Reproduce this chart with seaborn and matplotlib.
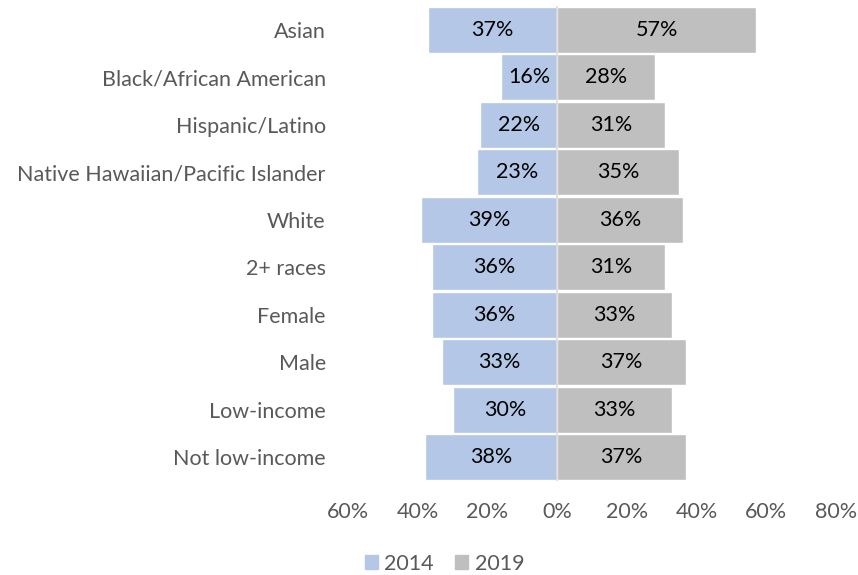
import numpy as np
import pandas as pd
import seaborn as sns
import matplotlib.pyplot as plt
from matplotlib.patches import Patch

groups = ['Asian', 'Black/African American', 'Hispanic/Latino',
          'Native Hawaiian/Pacific Islander', 'White', '2+ races',
          'Female', 'Male', 'Low-income', 'Not low-income']
pct_2014 = [37, 16, 22, 23, 39, 36, 36, 33, 30, 38]
pct_2019 = [57, 28, 31, 35, 36, 31, 33, 37, 33, 37]
xticks = [-60, -40, -20, 0, 20, 40, 60, 80]

blue = '#b4c7e7'
grey = '#bfbfbf'

sns.set_style('white')
plt.rcParams['font.family'] = ['Lato', 'DejaVu Sans']
fs = 15.5

df = pd.DataFrame({'group': groups,
                   'y2014': [-v for v in pct_2014],
                   'y2019': pct_2019})

fig = plt.figure(figsize=(8.58, 5.75), dpi=100)
ax = fig.add_axes([0.4056, 0.1635, 0.5688, 0.8261])

sns.barplot(data=df, x='y2014', y='group', color=blue, saturation=1,
            width=0.97, edgecolor='white', linewidth=1, ax=ax)
sns.barplot(data=df, x='y2019', y='group', color=grey, saturation=1,
            width=0.97, edgecolor='white', linewidth=1, ax=ax)

# value labels
ax.bar_label(ax.containers[0], labels=[f'{v}%' for v in pct_2014],
             label_type='center', fontsize=fs, color='black')
ax.bar_label(ax.containers[1], labels=[f'{v}%' for v in pct_2019],
             label_type='center', fontsize=fs, color='black')

ax.axvline(0, color='#d9d9d9', lw=1.2, zorder=5)

ax.set_xlim(-60, 80)
ax.set_ylim(9.5, -0.5)
ax.set_xticks(xticks)
ax.set_xticklabels([f'{abs(t)}%' for t in xticks])
ax.set_xlabel('')
ax.set_ylabel('')
ax.tick_params(axis='x', labelsize=fs, labelcolor='#595959', length=0, pad=15)
ax.tick_params(axis='y', labelsize=fs, labelcolor='#595959', length=0, pad=16)
sns.despine(ax=ax, left=True, bottom=True)

handles = [Patch(color=blue, label='2014'), Patch(color=grey, label='2019')]
fig.legend(handles=handles, loc='center', bbox_to_anchor=(0.518, 0.02),
           ncol=2, frameon=False, fontsize=fs, handlelength=0.6,
           handleheight=0.6, handletextpad=0.3, columnspacing=1.0,
           labelcolor='#595959')

fig.savefig('out.png', dpi=100)
